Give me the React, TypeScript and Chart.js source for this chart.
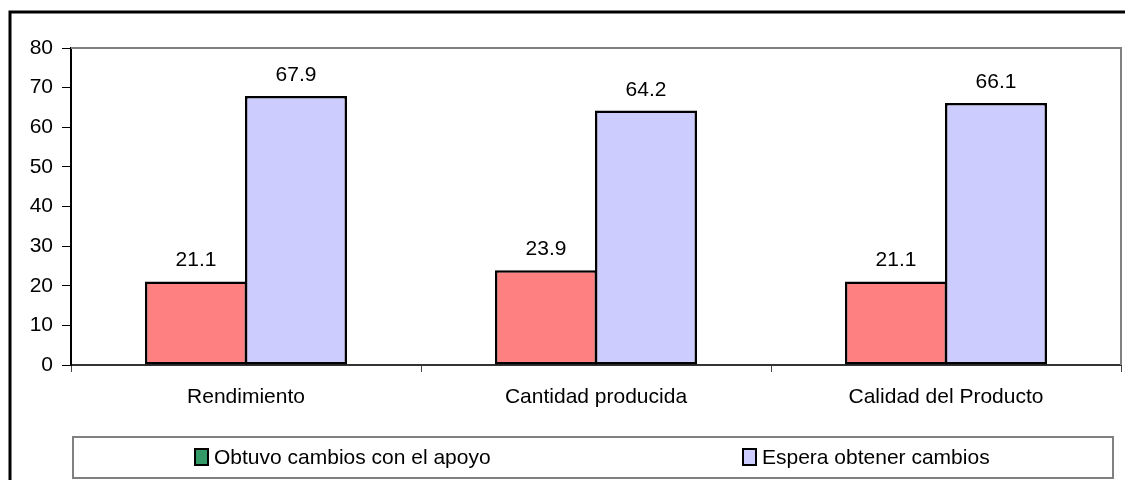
import React, { useEffect, useRef } from "react";
import { Chart, registerables } from "chart.js";

Chart.register(...registerables);

const categories = ["Rendimiento", "Cantidad producida", "Calidad del Producto"];
const seriesNames = ["Obtuvo cambios con el apoyo", "Espera obtener cambios"];
const obtuvoValues = [21.1, 23.9, 21.1];
const esperaValues = [67.9, 64.2, 66.1];
const yMin = 0;
const yMax = 80;
const yStep = 10;

const FONT = "'Liberation Sans', Arial, sans-serif";
const barColors = ["#FF8080", "#CCCCFF"];
const legendColors = ["#339966", "#CCCCFF"];

const decorPlugin = {
  id: "decor",
  beforeDraw(chart: any) {
    const ctx = chart.ctx;
    ctx.save();
    ctx.fillStyle = "#ffffff";
    ctx.fillRect(0, 0, chart.width, chart.height);
    ctx.restore();
  },
  afterDatasetsDraw(chart: any) {
    const ctx = chart.ctx;
    ctx.save();
    ctx.font = `21px ${FONT}`;
    ctx.fillStyle = "#000";
    ctx.textAlign = "center";
    ctx.textBaseline = "alphabetic";
    chart.data.datasets.forEach((ds: any, i: number) => {
      const meta = chart.getDatasetMeta(i);
      meta.data.forEach((bar: any, j: number) => {
        const v = ds.data[j];
        ctx.fillText(String(v.toFixed(1)), bar.x, bar.y - 15);
      });
    });
    ctx.restore();
  },
  afterDraw(chart: any) {
    const ctx = chart.ctx;
    const a = chart.chartArea;
    ctx.save();
    // plot area top/right border
    ctx.strokeStyle = "#808080";
    ctx.lineWidth = 2;
    ctx.beginPath();
    ctx.moveTo(a.left, a.top);
    ctx.lineTo(a.right, a.top);
    ctx.lineTo(a.right, a.bottom);
    ctx.stroke();

    // outer frame
    ctx.strokeStyle = "#000";
    ctx.lineWidth = 3;
    ctx.strokeRect(10, 12, chart.width + 50, chart.height + 50);

    // legend box
    const lx = 73, ly = 437, lw = 1040, lh = 41;
    ctx.strokeStyle = "#808080";
    ctx.lineWidth = 2;
    ctx.fillStyle = "#fff";
    ctx.fillRect(lx, ly, lw, lh);
    ctx.strokeRect(lx, ly, lw, lh);

    const itemX = [lx + 122, lx + 670];
    const cy = ly + 20;
    ctx.font = `21px ${FONT}`;
    ctx.textAlign = "left";
    ctx.textBaseline = "middle";
    seriesNames.forEach((name, i) => {
      const x = itemX[i];
      ctx.fillStyle = legendColors[i];
      ctx.fillRect(x, cy - 8, 13, 16);
      ctx.strokeStyle = "#000";
      ctx.lineWidth = 2;
      ctx.strokeRect(x, cy - 8, 13, 16);
      ctx.fillStyle = "#000";
      ctx.fillText(name, x + 19, cy + 1);
    });
    ctx.restore();
  },
};

export default function App() {
  const ref = useRef<HTMLCanvasElement>(null);
  useEffect(() => {
    if (!ref.current) return;
    const chart = new Chart(ref.current, {
      type: "bar",
      data: {
        labels: categories,
        datasets: [
          {
            label: seriesNames[0],
            data: obtuvoValues,
            backgroundColor: barColors[0],
            borderColor: "#000",
            borderWidth: 2.5,
            borderSkipped: false,
            barPercentage: 1.02,
            categoryPercentage: 0.5714,
          },
          {
            label: seriesNames[1],
            data: esperaValues,
            backgroundColor: barColors[1],
            borderColor: "#000",
            borderWidth: 2.5,
            borderSkipped: false,
            barPercentage: 1.02,
            categoryPercentage: 0.5714,
          },
        ],
      },
      options: {
        responsive: false,
        animation: false,
        layout: { padding: { top: 48, right: 4, left: 0, bottom: 0 } },
        plugins: {
          legend: { display: false },
          tooltip: { enabled: false },
          title: { display: false },
        },
        scales: {
          x: {
            grid: {
              drawOnChartArea: false,
              drawTicks: true,
              tickLength: 7,
              color: "#444",
              lineWidth: 1,
            },
            border: { color: "#333", width: 2 },
            ticks: {
              color: "#000",
              font: { family: FONT, size: 21 },
              padding: 13,
              maxRotation: 0,
            },
            afterFit(scale: any) {
              scale.height = 115;
            },
          },
          y: {
            min: yMin,
            max: yMax,
            grid: {
              drawOnChartArea: false,
              drawTicks: true,
              tickLength: 9,
              color: "#000",
              lineWidth: 1,
            },
            border: { color: "#000", width: 2 },
            ticks: {
              stepSize: yStep,
              color: "#000",
              font: { family: FONT, size: 21 },
              padding: 9,
            },
            afterFit(scale: any) {
              scale.width = 71;
            },
          },
        },
      },
      plugins: [decorPlugin],
    });
    return () => chart.destroy();
  }, []);
  return (
    <div style={{ position: "absolute", left: 0, top: 0, width: 1125, height: 480 }}>
      <canvas ref={ref} width={1125} height={480} style={{ display: "block" }} />
    </div>
  );
}
